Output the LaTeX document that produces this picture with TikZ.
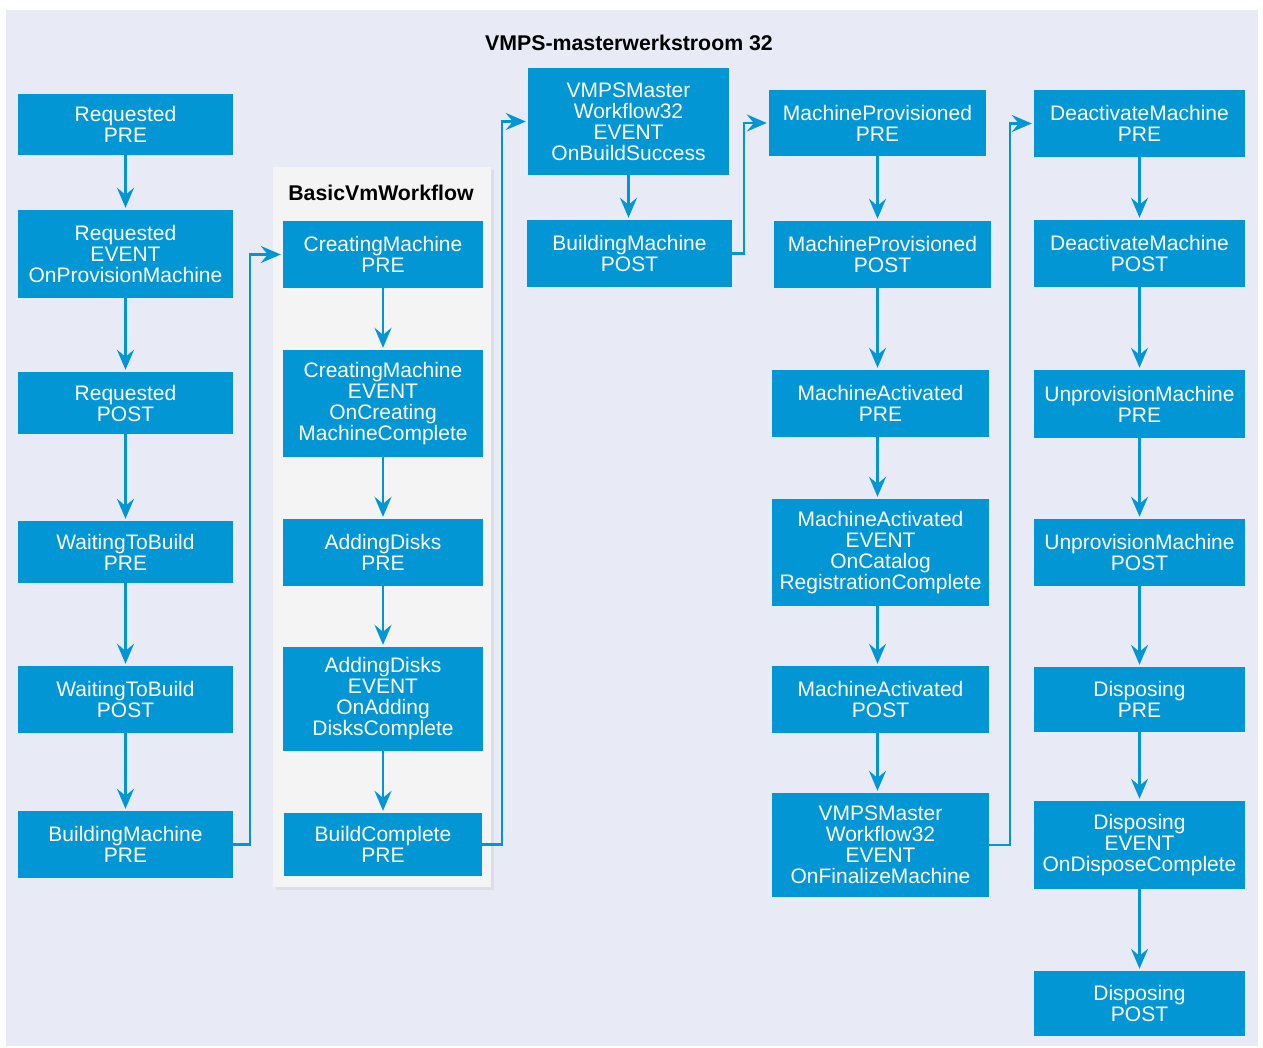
\documentclass[tikz,border=0pt]{standalone}
\usepackage{fontspec}
\setmainfont{Liberation Sans}
\usetikzlibrary{arrows.meta,shadows}
\definecolor{vmblue}{HTML}{0396D4}
\definecolor{vmback}{HTML}{E8EAF6}
\definecolor{vmpanel}{HTML}{F4F4F4}

\begin{document}
\begin{tikzpicture}[x=1pt,y=-1pt,
	wf/.style={fill=vmblue,text=white,align=center,inner sep=0pt,font=\fontsize{21}{21}\selectfont},
	heading/.style={font=\fontsize{21.3}{21}\selectfont\bfseries,inner sep=0pt},
	flow/.style={draw=vmblue,line width=2.5pt,-{Stealth[length=20pt,width=17pt,inset=7pt]},shorten >=2pt}]
		% page and background
		\fill[white] (0,0) rectangle (1263,1048);
		\fill[vmback] (6,10) rectangle (1258,1046);
		\fill[vmpanel,drop shadow={shadow xshift=3pt,shadow yshift=-3pt,opacity=0.12}] (273,167) rectangle (491,887);
		\node[heading] (title) at (629,43) {VMPS-masterwerkstroom 32};
		\node[heading] (basic) at (381,193) {BasicVmWorkflow};
		%first column
		\node[wf,minimum width=215,minimum height=61] (rqpre) at (125.5,124.5) {Requested\\PRE};
		\node[wf,minimum width=215,minimum height=88] (rqevent) at (125.5,254) {Requested\\EVENT\\OnProvisionMachine};
		\node[wf,minimum width=215,minimum height=62] (rqpost) at (125.5,403) {Requested\\POST};
		\node[wf,minimum width=215,minimum height=62] (wtbpre) at (125.5,552) {WaitingToBuild\\PRE};
		\node[wf,minimum width=215,minimum height=67] (wtbpost) at (125.5,699.5) {WaitingToBuild\\POST};
		\node[wf,minimum width=215,minimum height=67] (bmpre) at (125.5,844.5) {BuildingMachine\\PRE};
		%BasicVmWorkflow
		\node[wf,minimum width=200,minimum height=67] (cmpre) at (383,254.5) {CreatingMachine\\PRE};
		\node[wf,minimum width=200,minimum height=107] (cmevent) at (383,403.5) {CreatingMachine\\EVENT\\OnCreating\\MachineComplete};
		\node[wf,minimum width=200,minimum height=67] (adpre) at (383,552.5) {AddingDisks\\PRE};
		\node[wf,minimum width=200,minimum height=104] (adevent) at (383,699) {AddingDisks\\EVENT\\OnAdding\\DisksComplete};
		\node[wf,minimum width=198,minimum height=63] (bcpre) at (383,844.5) {BuildComplete\\PRE};
		%third column
		\node[wf,minimum width=201,minimum height=107] (vmbuild) at (628.5,121.5) {VMPSMaster\\Workflow32\\EVENT\\OnBuildSuccess};
		\node[wf,minimum width=205,minimum height=67] (bmpost) at (629.5,253.5) {BuildingMachine\\POST};
		%fourth column
		\node[wf,minimum width=217,minimum height=66] (mppre) at (877.5,123) {MachineProvisioned\\PRE};
		\node[wf,minimum width=217,minimum height=67] (mppost) at (882.5,254.5) {MachineProvisioned\\POST};
		\node[wf,minimum width=217,minimum height=67] (mapre) at (880.5,403.5) {MachineActivated\\PRE};
		\node[wf,minimum width=217,minimum height=107] (maevent) at (880.5,552.5) {MachineActivated\\EVENT\\OnCatalog\\RegistrationComplete};
		\node[wf,minimum width=217,minimum height=67] (mapost) at (880.5,699.5) {MachineActivated\\POST};
		\node[wf,minimum width=217,minimum height=104] (vmfinal) at (880.5,845) {VMPSMaster\\Workflow32\\EVENT\\OnFinalizeMachine};
		%fifth column
		\node[wf,minimum width=211,minimum height=67] (dmpre) at (1139.5,123.5) {DeactivateMachine\\PRE};
		\node[wf,minimum width=211,minimum height=67] (dmpost) at (1139.5,253.5) {DeactivateMachine\\POST};
		\node[wf,minimum width=211,minimum height=68] (umpre) at (1139.5,404) {UnprovisionMachine\\PRE};
		\node[wf,minimum width=211,minimum height=67] (umpost) at (1139.5,552.5) {UnprovisionMachine\\POST};
		\node[wf,minimum width=211,minimum height=65] (dppre) at (1139.5,699.5) {Disposing\\PRE};
		\node[wf,minimum width=211,minimum height=88] (dpevent) at (1139.5,845) {Disposing\\EVENT\\OnDisposeComplete};
		\node[wf,minimum width=211,minimum height=65] (dppost) at (1139.5,1003.5) {Disposing\\POST};
		%arrows down each column (\c gives the x of the arrow)
		\foreach \a/\b/\c in {rqpre/rqevent/rqpre,rqevent/rqpost/rqpre,rqpost/wtbpre/rqpre,wtbpre/wtbpost/rqpre,wtbpost/bmpre/rqpre,
				cmpre/cmevent/cmpre,cmevent/adpre/cmpre,adpre/adevent/cmpre,adevent/bcpre/cmpre,vmbuild/bmpost/vmbuild,
				mppre/mppost/mppre,mppost/mapre/mppre,mapre/maevent/mppre,maevent/mapost/mppre,mapost/vmfinal/mppre,
				dmpre/dmpost/dmpre,dmpost/umpre/dmpre,umpre/umpost/dmpre,umpost/dppre/dmpre,dppre/dpevent/dmpre,dpevent/dppost/dmpre}
			\draw[flow] (\a.south -| \c.south) -- (\b.north -| \c.south);
		%arrows to the next column
		\draw[flow] (bmpre.east) -- ++(17,0) |- (cmpre.west);
		\draw[flow] (bcpre.east) -- ++(20,0) |- (vmbuild.west);
		\draw[flow] (bmpost.east) -- ++(12,0) |- (mppre.west);
		\draw[flow] (vmfinal.east) -- ++(21,0) |- (dmpre.west);
\end{tikzpicture}
\end{document}
